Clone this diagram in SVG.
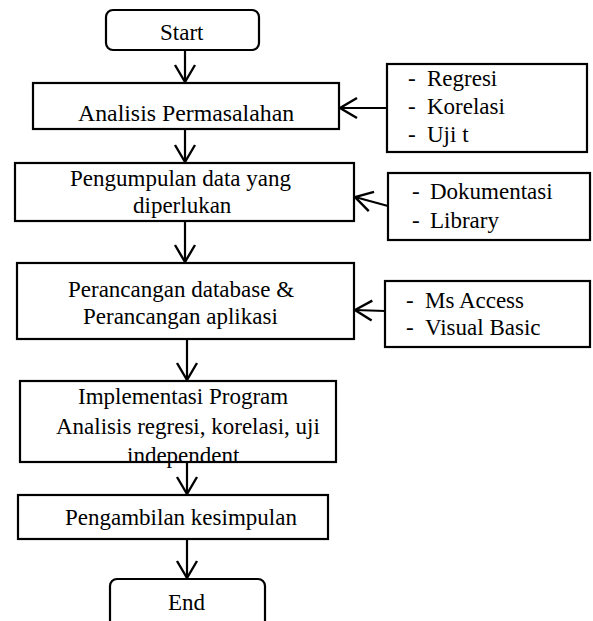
<svg xmlns="http://www.w3.org/2000/svg" width="593" height="621" viewBox="0 0 593 621">
<defs>
<style>
.box{fill:#fff;stroke:#000;stroke-width:2.2}
.t{font-family:'Liberation Serif',serif;font-size:23px;fill:#000}
.c{fill:none;stroke:#000;stroke-width:2.2}
</style>
<marker id="ah" markerUnits="userSpaceOnUse" markerWidth="40" markerHeight="40" viewBox="-20 -20 40 40" refX="0" refY="0" orient="auto">
<path d="M-17,-10 L0,0 L-17,10" fill="none" stroke="#000" stroke-width="2.4"/>
</marker>
</defs>
<rect width="593" height="621" fill="#fff"/>
<g id="connectors">
<line class="c" x1="185" y1="50" x2="185" y2="82" marker-end="url(#ah)"/>
<line class="c" x1="185" y1="129" x2="185" y2="162" marker-end="url(#ah)"/>
<line class="c" x1="185" y1="221" x2="185" y2="262" marker-end="url(#ah)"/>
<line class="c" x1="187" y1="339" x2="187" y2="380" marker-end="url(#ah)"/>
<line class="c" x1="187" y1="462" x2="187" y2="494" marker-end="url(#ah)"/>
<line class="c" x1="187" y1="539" x2="187" y2="578" marker-end="url(#ah)"/>
<line class="c" x1="387" y1="108" x2="340" y2="108" marker-end="url(#ah)"/>
<line class="c" x1="388" y1="206" x2="355" y2="197" marker-end="url(#ah)"/>
<line class="c" x1="385" y1="311" x2="355" y2="310" marker-end="url(#ah)"/>
</g>
<g id="start">
<rect class="box" x="106" y="10" width="153" height="40" rx="7"/>
<text class="t" x="160" y="40">Start</text>
</g>
<g id="analisis">
<rect class="box" x="33" y="83" width="306" height="46"/>
<text class="t" x="78" y="121" style="font-size:23.8px">Analisis Permasalahan</text>
</g>
<g id="metode">
<rect class="box" x="387" y="64" width="200" height="88"/>
<text class="t" x="408" y="86">-</text><text class="t" x="427" y="86">Regresi</text>
<text class="t" x="408" y="114">-</text><text class="t" x="427" y="114">Korelasi</text>
<text class="t" x="408" y="142">-</text><text class="t" x="427" y="142">Uji t</text>
</g>
<g id="pengumpulan">
<rect class="box" x="15" y="163" width="339" height="58"/>
<text class="t" x="70" y="186">Pengumpulan data yang</text>
<text class="t" x="133" y="213">diperlukan</text>
</g>
<g id="sumber">
<rect class="box" x="388" y="173" width="202" height="67"/>
<text class="t" x="412" y="199">-</text><text class="t" x="430" y="199">Dokumentasi</text>
<text class="t" x="412" y="228">-</text><text class="t" x="430" y="228">Library</text>
</g>
<g id="perancangan">
<rect class="box" x="17" y="263" width="337" height="76"/>
<text class="t" x="68" y="297">Perancangan database &amp;</text>
<text class="t" x="83" y="324">Perancangan aplikasi</text>
</g>
<g id="tools">
<rect class="box" x="385" y="281" width="205" height="66"/>
<text class="t" x="406" y="308">-</text><text class="t" x="425" y="308">Ms Access</text>
<text class="t" x="406" y="335">-</text><text class="t" x="425" y="335">Visual Basic</text>
</g>
<g id="implementasi">
<rect class="box" x="20" y="381" width="316" height="81"/>
<text class="t" x="78" y="404">Implementasi Program</text>
<text class="t" x="56" y="434">Analisis regresi, korelasi, uji</text>
<text class="t" x="127" y="463">independent</text>
</g>
<g id="pengambilan">
<rect class="box" x="18" y="495" width="310" height="44"/>
<text class="t" x="65" y="525">Pengambilan kesimpulan</text>
</g>
<g id="end">
<rect class="box" x="110" y="579" width="155" height="50" rx="7"/>
<text class="t" x="168" y="610">End</text>
</g>
</svg>
